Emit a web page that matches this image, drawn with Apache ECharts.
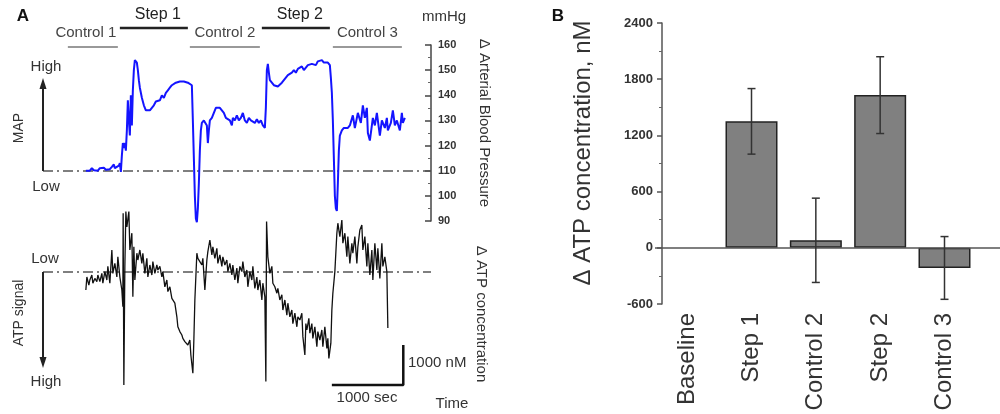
<!DOCTYPE html>
<html>
<head>
<meta charset="utf-8">
<script src="https://cdn.jsdelivr.net/npm/echarts@6/dist/echarts.min.js"></script>
<style>
html,body{margin:0;padding:0;background:#fff;}
#chart{width:1000px;height:414px;}
</style>
</head>
<body>
<div id="chart"></div>
<script>
// ---------- Panel A: mean arterial pressure trace (time s, mmHg) ----------
const mapTime = [0,28,56,84,112,140,168,196,224,252,280,308,336,364,392,406,434,462,476,490,504,518,532,546,560,574,588,602,616,630,644,658,672,686,700,714,728,742,756,784,812,840,868,896,924,952,980,1008,1036,1064,1092,1120,1148,1176,1204,1232,1260,1288,1316,1344,1372,1400,1428,1456,1484,1498,1512,1526,1540,1554,1568,1582,1596,1610,1624,1652,1680,1694,1708,1722,1736,1764,1792,1820,1848,1876,1904,1932,1960,1988,2016,2044,2058,2086,2114,2142,2170,2198,2226,2254,2282,2310,2338,2366,2394,2422,2450,2478,2506,2520,2534,2548,2562,2576,2604,2632,2660,2688,2716,2744,2772,2800,2828,2856,2884,2912,2940,2968,2996,3024,3052,3080,3108,3136,3164,3192,3220,3248,3276,3304,3332,3360,3388,3416,3430,3444,3458,3472,3486,3500,3514,3528,3542,3556,3584,3612,3640,3668,3696,3738,3766,3808,3850,3878,3906,3934,3948,3976,4018,4046,4074,4116,4144,4186,4214,4228,4270,4298,4326,4354,4396,4424,4438,4466];
const mapValue = [110,110.5,110,111,110.2,110.8,110,111,110.5,111.2,110.4,111,110.6,111.5,112.5,111,111.5,112,113,109.5,116,121,119,121,118,126,138,130,124,140,128,142,150,154,154.5,153,150,146,143,139,136,134,134.5,134,135,136,137.5,137,138,140,139,141,142,143,144,144.5,145,144.5,145.5,145,145.5,145,145,145.5,144,130,115,100,91,89.5,95,105,118,126,129,130,129.5,128,121,126,130,131,133,135,134.5,135,134,133,131,131.5,130,128,131,130,132,130,131,133,130,129,131,130,130.5,129,130.5,129,130,128,127,135,150,152.5,149,146,145,144,143.5,143.5,144,145,146,147,148,148.5,149,150,149,150.5,150,151.5,150,151,152,151.5,152.5,153,152,153.5,153,154,153,153.5,153,152,147,141,130,115,100,95,94,105,118,124,126,127,127.5,127,128,132,127,133,129,136,131,135,125,122,131,128,133,124,130,127,131,126,129,134,128,130,126,133,129,131];

// ---------- Panel A: ATP signal trace (time s, change in nM) ----------
const atpTime = [0,14,42,56,84,98,126,154,168,196,224,238,266,294,308,336,364,378,406,434,448,476,504,518,522,532,546,560,574,602,616,644,658,672,686,714,728,756,784,798,826,854,868,896,924,938,966,994,1008,1036,1064,1078,1106,1134,1148,1176,1204,1218,1246,1274,1288,1316,1344,1358,1386,1414,1428,1456,1470,1498,1512,1526,1554,1568,1596,1624,1638,1666,1694,1708,1736,1764,1778,1806,1834,1848,1876,1904,1918,1946,1974,1988,2016,2044,2058,2086,2114,2128,2156,2184,2198,2226,2254,2268,2296,2324,2338,2366,2394,2408,2436,2464,2478,2506,2520,2530,2548,2576,2604,2618,2646,2674,2688,2716,2744,2758,2786,2814,2828,2856,2884,2898,2926,2954,2968,2996,3024,3038,3066,3080,3094,3122,3136,3164,3178,3206,3234,3248,3276,3304,3318,3346,3374,3388,3402,3430,3444,3458,3486,3514,3528,3556,3584,3598,3626,3654,3668,3696,3724,3738,3766,3794,3808,3836,3864,3878,3906,3934,3948,3976,4004,4018,4046,4074,4088,4116,4144,4158,4186,4214,4228];
const atpValue = [450,125,330,200,75,280,160,240,75,240,35,280,-10,200,-140,280,-550,35,-215,125,-380,125,450,870,-1470,2825,-140,-1510,-1130,-1510,-550,-970,620,-630,200,-470,-300,-550,-215,-470,35,-340,125,-175,75,-260,35,-175,-50,-140,125,-10,370,200,490,370,660,620,780,1120,1370,1490,1575,1660,1740,1740,1825,1700,2075,2530,1700,700,-470,-340,-260,-175,-340,450,-300,-510,-800,-430,-630,-340,-590,-215,-430,-140,-380,-175,-300,-10,-215,75,-175,200,-100,280,-140,-10,-260,125,-50,370,-10,200,-140,410,125,450,200,700,280,620,2740,-1260,-380,35,-140,280,370,530,410,700,570,950,700,1080,780,1120,950,1290,1030,1370,1120,1200,1030,1610,2075,1290,1450,1160,1530,1290,1660,1370,1870,1490,1700,1450,1870,1370,1910,1660,2160,1780,950,530,-10,-970,-1220,-885,-1300,-720,-970,-380,-885,-215,-720,-470,-885,-215,-630,-1050,-1175,-550,-885,-140,-720,75,-550,200,-720,-50,-590,160,-720,-140,-380,-10,1400];

// scale bar: 1000 s horizontal, 1000 nM vertical
const scaleTime = [3444, 4444, 4444];
const scaleConc = [2825, 2825, 1825];

// protocol periods (time s)
const periodNames = ['Control 1','Step 1','Control 2','Step 2','Control 3'];
const periodStart = [-252, 476, 1456, 2464, 3458];
const periodEnd   = [448, 1428, 2436, 3416, 4424];
const periodKind  = ['control','step','control','step','control'];

// ---------- Panel B: bar chart ----------
const categories = ['Baseline','Step 1','Control 2','Step 2','Control 3'];
const meanATP = [null, 1350, 80, 1630, -215];
const semATP  = [0, 350, 450, 410, 335];

const FONT = "'Liberation Sans', Arial, sans-serif";
const chart = echarts.init(document.getElementById('chart'), null, {renderer:'canvas'});

const dashDot = {type:[10,4,2,4], color:'#555', width:1.5};

const option = {
  animation:false,
  textStyle:{fontFamily:FONT},
  grid:[
    {left:43, top:45, width:388, height:176, outerBoundsMode:'none', containLabel:false},
    {left:43, top:204, width:388, height:186, outerBoundsMode:'none', containLabel:false},
    {left:655, top:23, width:386, height:281, outerBoundsMode:'none', containLabel:false}
  ],
  xAxis:[
    {gridIndex:0, type:'value', min:-600, max:4832, show:false},
    {gridIndex:1, type:'value', min:-600, max:4832, show:false},
    {gridIndex:2, type:'category', data:categories, max:5,
     axisLine:{show:false}, axisTick:{show:false}, splitLine:{show:false},
     axisLabel:{rotate:90, interval:0, fontSize:24, color:'#333', margin:9, fontFamily:FONT,
       formatter:v => (v === undefined || v === null) ? '' : v}}
  ],
  yAxis:[
    {gridIndex:0, type:'value', position:'right', min:90, max:160, interval:10,
     axisLine:{show:true, onZero:false, lineStyle:{color:'#444', width:1.5}},
     axisTick:{show:true, inside:true, length:6, lineStyle:{color:'#444', width:1.5}},
     minorTick:{show:true, splitNumber:2, length:3, lineStyle:{color:'#666', width:1}},
     splitLine:{show:false},
     axisLabel:{fontSize:11, fontWeight:'bold', color:'#333', margin:7, fontFamily:FONT,
       formatter:v => String(v)}},
    {gridIndex:1, type:'value', inverse:true, min:-1700, max:2950, show:false},
    {gridIndex:2, type:'value', min:-600, max:2400, interval:600, offset:-7,
     axisLine:{show:true, onZero:false, lineStyle:{color:'#555', width:1.5}},
     axisTick:{show:true, length:5, lineStyle:{color:'#555', width:1.5}},
     minorTick:{show:true, splitNumber:2, length:3, lineStyle:{color:'#666', width:1}},
     splitLine:{show:false},
     axisLabel:{fontSize:13, fontWeight:'bold', color:'#333', margin:9, fontFamily:FONT,
       formatter:v => String(v)}}
  ],
  series:[
    {type:'line', name:'MAP', xAxisIndex:0, yAxisIndex:0, clip:false,
     data:mapTime.map((t,i)=>[t, mapValue[i]]), showSymbol:false, symbol:'none',
     lineStyle:{color:'#1414ff', width:2}, z:5,
     markLine:{silent:true, symbol:['none','none'], label:{show:false}, lineStyle:dashDot,
       data:[{yAxis:110}]}},
    {type:'line', name:'ATP', xAxisIndex:1, yAxisIndex:1, clip:false,
     data:atpTime.map((t,i)=>[t, atpValue[i]]), showSymbol:false, symbol:'none',
     lineStyle:{color:'#111', width:1.3}, z:5,
     markLine:{silent:true, symbol:['none','none'], label:{show:false}, lineStyle:dashDot,
       data:[{yAxis:0}]}},
    {type:'line', name:'scale', xAxisIndex:1, yAxisIndex:1, clip:false,
     data:scaleTime.map((t,i)=>[t, scaleConc[i]]), showSymbol:false, symbol:'none',
     lineStyle:{color:'#111', width:2.5}},
    {type:'bar', name:'dATP', xAxisIndex:2, yAxisIndex:2, data:meanATP, barWidth:52,
     itemStyle:{color:'#808080', borderColor:'#222', borderWidth:1.5},
     markLine:{silent:true, symbol:['none','none'], label:{show:false},
       lineStyle:{type:'solid', color:'#555', width:1.5}, data:[{yAxis:0}]}},
    {type:'custom', name:'err', xAxisIndex:2, yAxisIndex:2, z:10,
     data:categories.map((c,i)=>[i, meanATP[i] === null ? 0 : meanATP[i], semATP[i]]),
     renderItem:function(params, api){
       const i = api.value(0), v = api.value(1), e = api.value(2);
       if (!e) return null;
       const top = api.coord([i, v + e]);
       const bot = api.coord([i, v - e]);
       const st = {stroke:'#333', lineWidth:1.5};
       return {type:'group', children:[
         {type:'line', shape:{x1:top[0], y1:top[1], x2:bot[0], y2:bot[1]}, style:st},
         {type:'line', shape:{x1:top[0]-4, y1:top[1], x2:top[0]+4, y2:top[1]}, style:st},
         {type:'line', shape:{x1:bot[0]-4, y1:bot[1], x2:bot[0]+4, y2:bot[1]}, style:st}
       ]};
     }}
  ]
};
chart.setOption(option);

// ---------- annotations ----------
const g = [];
function txt(s, x, y, size, opts){
  opts = opts || {};
  g.push({type:'text', x:x, y:y, rotation:opts.rot || 0, z:20,
    style:{text:s, fontSize:size, fontFamily:FONT, fontWeight:opts.bold?'bold':'normal',
      fill:opts.color || '#333', textAlign:opts.align || 'center', textVerticalAlign:'middle'}});
}
function ln(x1,y1,x2,y2,color,w){
  g.push({type:'line', z:20, shape:{x1:x1,y1:y1,x2:x2,y2:y2}, style:{stroke:color, lineWidth:w}});
}
txt('A', 23, 16, 17, {bold:true, color:'#111'});
txt('B', 558, 16, 17, {bold:true, color:'#111'});
txt('mmHg', 444, 17, 15);

for (let i = 0; i < periodNames.length; i++){
  const x1 = chart.convertToPixel({xAxisIndex:0}, periodStart[i]);
  const x2 = chart.convertToPixel({xAxisIndex:0}, periodEnd[i]);
  const cx = (x1 + x2) / 2;
  if (periodKind[i] === 'step'){
    ln(x1, 28, x2, 28, '#222', 2.5);
    txt(periodNames[i], cx + 4, 15, 16, {color:'#222'});
  } else {
    ln(x1, 47, x2, 47, '#999', 2);
    txt(periodNames[i], cx - (i === 0 ? 7 : 0), 33, 15, {color:'#444'});
  }
}

txt('\u0394 Arterial Blood Pressure', 484, 123, 15, {rot:-Math.PI/2});
txt('\u0394 ATP concentration', 481, 314, 15, {rot:-Math.PI/2});
txt('High', 46, 67, 15);
txt('Low', 46, 187, 15);
txt('MAP', 19, 128, 14, {rot:Math.PI/2});
txt('Low', 45, 259, 15);
txt('High', 46, 382, 15);
txt('ATP signal', 19, 313, 14, {rot:Math.PI/2});
txt('1000 nM', 408, 363, 15, {align:'left'});
txt('1000 sec', 367, 398, 15);
txt('Time', 452, 404, 15);
txt('\u0394 ATP concentration, nM', 583, 153, 24, {rot:Math.PI/2});

// arrows
ln(43, 171, 43, 86, '#222', 2);
g.push({type:'polygon', z:20, shape:{points:[[43,78],[39.5,89],[46.5,89]]}, style:{fill:'#222'}});
ln(43, 272, 43, 360, '#222', 2);
g.push({type:'polygon', z:20, shape:{points:[[43,368],[39.5,357],[46.5,357]]}, style:{fill:'#222'}});

chart.setOption({graphic:g});
</script>
</body>
</html>
